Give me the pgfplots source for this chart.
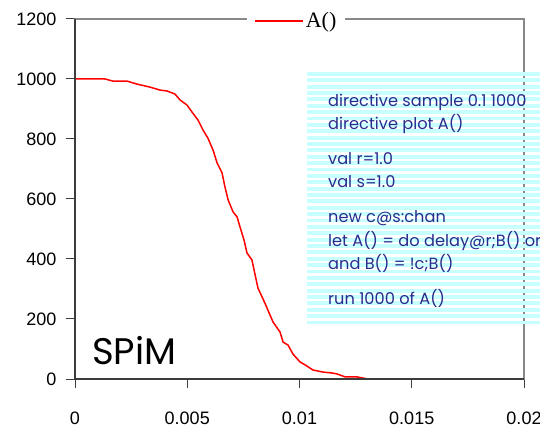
\documentclass[border=0pt]{standalone}
\usepackage{pgfplots}
\pgfplotsset{compat=1.18}
\usepackage{fontspec}
\setmainfont{Liberation Sans}
\newfontfamily\timesfont{Liberation Serif}
\newfontfamily\comicfont{Poppins}

\definecolor{axisdark}{HTML}{3C3C3C}
\definecolor{framegrey}{HTML}{888888}
\definecolor{stripe}{HTML}{C8FFFF}
\definecolor{codeblue}{HTML}{2B2B8C}

\begin{document}
\begin{tikzpicture}[x=1bp,y=1bp]
\begin{axis}[
  name=ax, at={(75bp,51bp)}, anchor=south west,
  scale only axis, width=449bp, height=360bp,
  xmin=0, xmax=0.02, ymin=0, ymax=1200,
  xtick={0,0.005,0.01,0.015,0.02},
  xticklabels={0,0.005,0.01,0.015,0.02},
  ytick={0,200,400,600,800,1000,1200},
  yticklabels={0,200,400,600,800,1000,1200},
  tick pos=left, tick align=outside,
  major tick length=9bp,
  tick style={axisdark, line width=1bp},
  axis line style={framegrey, line width=1.5bp},
  ticklabel style={font=\fontsize{18bp}{18bp}\selectfont},
  xticklabel style={inner sep=0.5bp, yshift=-23bp},
  yticklabel style={xshift=-6bp},
  legend style={at={(0.493,1)}, anchor=center, yshift=-2bp,
    draw=none, fill=white, inner xsep=7bp, inner ysep=1bp,
    font=\timesfont\fontsize{22bp}{22bp}\selectfont},
  legend image code/.code={\draw[red, line width=1.5bp] (0bp,0bp) -- (48bp,0bp);},
  clip=false,
]
\addplot[red, line width=1.5bp] coordinates {
  (0,1000) (0.00134,1000) (0.00169,993) (0.00232,993) (0.00276,983)
  (0.00334,973) (0.00379,963) (0.00410,960) (0.00445,950) (0.00468,930)
  (0.00499,913) (0.00521,890) (0.00548,863) (0.00570,830) (0.00592,803)
  (0.00615,763) (0.00633,720) (0.00655,687) (0.00668,640) (0.00682,597)
  (0.00704,557) (0.00722,540) (0.00735,507) (0.00753,463) (0.00766,420)
  (0.00788,397) (0.00815,303) (0.00846,253) (0.00882,190) (0.00913,157)
  (0.00927,123) (0.00949,113) (0.00971,83) (0.01002,57) (0.01025,47)
  (0.01060,30) (0.01105,23) (0.01145,20) (0.01167,17) (0.01203,7)
  (0.01256,7) (0.01305,0) (0.01479,0)
};
\legend{A()}
\end{axis}
% dark left and bottom axis lines
\draw[axisdark, line width=2bp] (ax.north west) -- (ax.south west) -- (ax.south east);
% striped text box
\foreach \i in {0,...,39} {
  \fill[stripe] (307bp,358bp-\i*6.375bp) rectangle (560bp,358bp-\i*6.375bp-3.8bp);
}
\begin{scope}[every node/.style={anchor=base west, inner sep=0pt, text=codeblue,
    font=\comicfont\fontsize{16.2bp}{16.2bp}\selectfont}]
\node at (328bp,323bp) {directive sample 0.1 1000};
\node at (328bp,300bp) {directive plot A()};
\node at (328bp,265bp) {val r=1.0};
\node at (328bp,242bp) {val s=1.0};
\node at (328bp,207bp) {new c@s:chan};
\node at (328bp,183bp) {let A() = do delay@r;B() or ?c;A()};
\node at (328bp,160bp) {and B() = !c;B()};
\node at (328bp,125bp) {run 1000 of A()};
\end{scope}
\node[anchor=base west, inner sep=0pt, font=\comicfont\fontsize{37bp}{37bp}\selectfont] at (92bp,65bp) {SPiM};
\pgfresetboundingbox
\useasboundingbox (0,0) rectangle (540bp,430bp);
\end{tikzpicture}
\end{document}
